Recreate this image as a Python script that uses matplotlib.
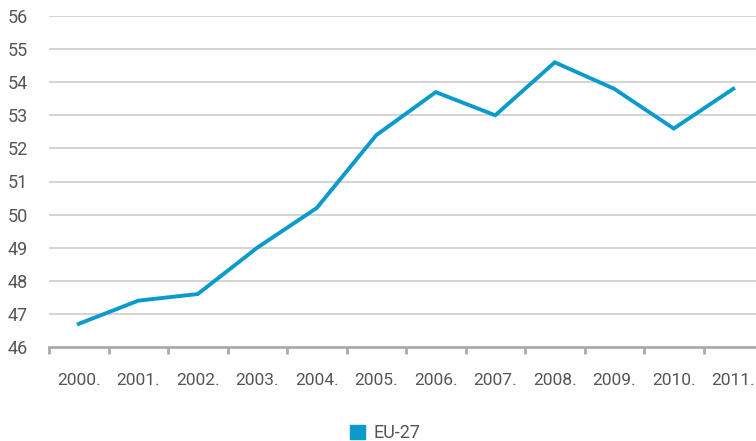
import numpy as np
import matplotlib.pyplot as plt
from matplotlib.patches import Patch

years = ['2000.', '2001.', '2002.', '2003.', '2004.', '2005.',
         '2006.', '2007.', '2008.', '2009.', '2010.', '2011.']
eu27 = [46.7, 47.4, 47.6, 49.0, 50.2, 52.4, 53.7, 53.0, 54.6, 53.8, 52.6, 53.8]
yticks = list(range(46, 57))

blue = '#0A9ACB'
grid_c = '#cccccc'
text_c = '#555555'
plt.rcParams['font.family'] = ['Roboto', 'DejaVu Sans']

fig = plt.figure(figsize=(7.56, 4.41), dpi=100)
W, H = 756, 441
ax = fig.add_axes([49/W, 1-347/H, 714/W, 331/H])

x = np.arange(len(years))
ax.plot(x, eu27, color=blue, lw=2.8, solid_joinstyle='miter', zorder=3)

ax.set_xlim(-0.5, len(years)-0.5)
ax.set_ylim(46, 56)
ax.set_yticks(yticks)
ax.set_yticklabels([str(v) for v in yticks])
ax.set_xticks(x)
ax.set_xticklabels(years)
ax.set_xticks(np.arange(-0.5, len(years)), minor=True)

for v in yticks[1:]:
    ax.axhline(v, color=grid_c, lw=1.2, zorder=1)

for s in ['top', 'right', 'left']:
    ax.spines[s].set_visible(False)
ax.spines['bottom'].set_color('#aaaaaa')
ax.spines['bottom'].set_linewidth(2)

ax.tick_params(axis='y', length=0, pad=15, labelsize=13, labelcolor=text_c)
ax.tick_params(axis='x', which='major', length=0, pad=19, labelsize=12.5, labelcolor=text_c)
ax.tick_params(axis='x', which='minor', length=5, width=2, color='#aaaaaa')

fig.legend(handles=[Patch(color=blue, label='EU-27')], loc='center',
           bbox_to_anchor=(0.51, 1-433/H), frameon=False, fontsize=13,
           handlelength=0.8, handleheight=0.8, handletextpad=0.5,
           labelcolor=text_c)

fig.savefig('out.png', dpi=100)
